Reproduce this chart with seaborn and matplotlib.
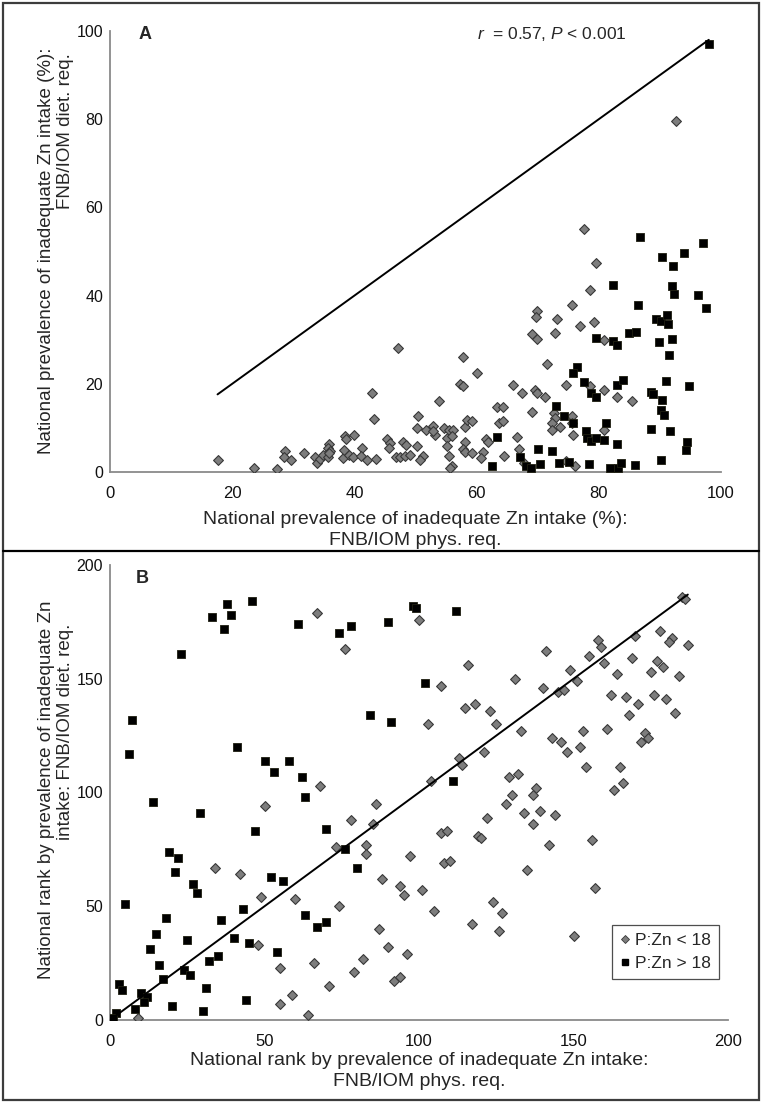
import numpy as np
import pandas as pd
import matplotlib
matplotlib.use("Agg")
import matplotlib.pyplot as plt
from matplotlib.patches import Rectangle
from matplotlib.lines import Line2D
import seaborn as sns

# Panel A: prevalence of inadequate Zn intake (%), phys. req. (x) vs diet. req. (y)
a_low_x = [17.6, 23.5, 27.4, 28.7, 28.4, 29.6, 31.8, 33.6, 33.8, 34.4, 34.9, 35.6, 35.9, 35.6,
           36.0, 38.1, 38.3, 38.5, 38.7, 39.9, 39.1, 39.7, 41.3, 41.1, 42.0, 43.5, 42.9, 43.2,
           45.4, 45.8, 45.7, 46.8, 47.5, 47.9, 48.4, 48.3, 49.1, 50.4, 50.2, 51.8, 50.3, 51.3,
           50.8, 47.1, 57.7, 60.0, 57.3, 57.8, 53.8, 52.9, 53.2, 52.8, 54.6, 55.1, 55.5, 56.1,
           56.0, 55.1, 55.5, 55.9, 55.6, 58.1, 58.5, 59.2, 58.1, 57.7, 58.1, 59.2, 61.1, 60.8,
           61.5, 61.9, 63.4, 64.4, 63.7, 64.4, 64.5, 66.0, 67.4, 66.6, 67.0, 67.8, 69.0, 69.6,
           69.9, 71.2, 71.5, 74.7, 78.6, 72.6, 72.8, 72.4, 72.3, 73.6, 75.6, 75.6, 75.8, 74.7,
           76.1, 79.5, 78.6, 75.6, 69.9, 69.7, 73.2, 77.0, 79.2, 72.8, 69.0, 69.9, 80.9, 80.9,
           82.9, 85.5, 77.5, 92.6, 80.8, 35.9]
a_low_y = [2.7, 0.9, 0.6, 4.8, 3.5, 2.8, 4.3, 3.3, 2.0, 2.9, 3.8, 3.3, 6.3, 5.5,
           4.8, 3.1, 5.0, 8.1, 7.4, 8.4, 3.8, 3.3, 5.5, 3.7, 2.7, 2.9, 18.0, 12.0,
           7.5, 6.5, 5.4, 3.5, 3.3, 6.8, 6.1, 3.7, 3.8, 12.6, 9.9, 9.6, 5.9, 3.7,
           2.8, 28.1, 26.0, 22.5, 19.9, 19.4, 16.2, 10.5, 8.5, 9.3, 9.9, 7.8, 9.5, 9.6,
           8.1, 5.9, 3.7, 1.4, 0.9, 10.2, 11.9, 11.5, 6.8, 5.3, 4.6, 4.3, 4.6, 3.1,
           7.5, 6.8, 14.7, 14.7, 11.1, 11.5, 3.7, 19.7, 18.0, 8.0, 5.3, 2.0, 13.5, 18.5,
           17.9, 17.1, 24.4, 19.7, 19.4, 13.4, 12.3, 11.0, 9.5, 10.2, 12.8, 11.1, 8.3, 2.6,
           1.3, 47.5, 41.3, 37.9, 36.4, 35.2, 34.6, 33.1, 34.1, 31.6, 31.2, 30.1, 30.0, 18.5,
           17.0, 16.1, 55.0, 79.6, 9.5, 4.4]
a_high_x = [76.5, 75.8, 77.6, 78.8, 79.5, 73.0, 74.3, 75.7, 77.9, 78.0, 78.8, 63.3, 67.1, 70.0,
            72.3, 70.4, 68.1, 68.9, 62.5, 73.5, 75.2, 78.4, 86.7, 90.3, 93.9, 97.0, 92.1, 82.4,
            91.9, 92.3, 96.3, 97.5, 86.4, 89.3, 90.1, 91.1, 91.4, 84.9, 86.1, 79.5, 82.3, 83.0,
            89.9, 91.9, 91.5, 91.0, 94.7, 82.9, 83.9, 88.6, 88.8, 90.3, 90.2, 90.6, 81.1, 88.5,
            91.7, 79.6, 80.9, 83.0, 94.4, 94.3, 81.9, 83.2, 83.6, 86.0, 90.1, 98.0]
a_high_y = [23.7, 22.4, 20.3, 17.9, 17.1, 15.0, 12.8, 11.1, 9.3, 7.8, 7.0, 8.0, 3.5, 5.3,
            4.8, 1.8, 1.3, 1.0, 1.3, 2.0, 2.2, 1.8, 53.3, 48.8, 49.6, 52.0, 46.6, 42.5,
            42.2, 40.4, 40.1, 37.1, 37.8, 34.7, 34.2, 35.7, 33.6, 31.5, 31.8, 30.4, 29.8, 28.8,
            29.4, 30.1, 26.6, 20.6, 19.4, 19.7, 20.9, 18.2, 17.6, 16.4, 14.1, 13.0, 11.1, 9.8,
            9.3, 7.6, 7.2, 6.4, 6.8, 5.0, 0.9, 1.0, 2.0, 1.7, 2.8, 97.0]

# Panel B: national rank by prevalence, phys. req. (x) vs diet. req. (y)
b_low_x = [67, 76, 100, 103, 68, 185, 186, 178, 182, 181, 187, 170, 158, 159, 155, 141, 149, 160,
           169, 177, 179, 175, 184, 164, 151, 145, 147, 140, 131, 116, 107, 162, 167, 171, 176,
           180, 183, 168, 161, 153, 173, 174, 172, 143, 146, 148, 152, 154, 165, 166, 163, 133,
           125, 123, 118, 115, 121, 113, 114, 104, 129, 132, 138, 50, 78, 86, 85, 73, 83, 83,
           97, 34, 42, 88, 94, 95, 101, 49, 60, 74, 87, 90, 96, 48, 55, 66, 82, 79, 92, 94,
           71, 59, 55, 64, 9, 128, 130, 137, 122, 134, 137, 139, 144, 107, 109, 119, 120, 142,
           156, 108, 110, 135, 157, 124, 127, 105, 117, 126, 150]
b_low_y = [179, 163, 176, 130, 103, 186, 185, 171, 168, 166, 165, 169, 167, 164, 160, 162, 154, 157,
           159, 158, 155, 153, 151, 152, 149, 144, 145, 146, 150, 156, 147, 143, 142, 139, 143,
           141, 135, 134, 128, 127, 126, 124, 122, 124, 122, 118, 120, 111, 111, 104, 101, 127,
           130, 136, 139, 137, 118, 115, 112, 105, 107, 108, 102, 94, 88, 95, 86, 76, 77, 73,
           72, 67, 64, 62, 59, 55, 57, 54, 53, 50, 40, 32, 29, 33, 23, 25, 27, 21, 17, 19,
           15, 11, 7, 2, 1, 95, 99, 99, 89, 91, 86, 92, 90, 82, 83, 81, 80, 77,
           79, 69, 70, 66, 58, 52, 47, 48, 42, 39, 37]
b_high_x = [38, 46, 33, 39, 37, 23, 61, 74, 78, 90, 98, 99, 102, 7, 6, 41, 84, 91, 50, 53, 58,
            62, 112, 111, 14, 29, 63, 47, 70, 76, 80, 19, 22, 21, 27, 28, 5, 18, 52, 56, 43,
            36, 63, 67, 70, 15, 25, 13, 40, 45, 54, 35, 32, 16, 24, 26, 17, 3, 4, 10, 12, 11,
            31, 44, 20, 30, 8, 2, 1]
b_high_y = [183, 184, 177, 178, 172, 161, 174, 170, 173, 175, 182, 181, 148, 132, 117, 120, 134,
            131, 114, 109, 114, 107, 180, 105, 96, 91, 98, 83, 84, 75, 67, 74, 71, 65, 60, 56,
            51, 45, 63, 61, 49, 44, 46, 41, 43, 38, 35, 31, 36, 34, 30, 28, 26, 24, 22, 20, 18,
            16, 13, 12, 10, 8, 14, 9, 6, 4, 5, 3, 1]

LOW_LABEL = 'P:Zn < 18'
HIGH_LABEL = 'P:Zn > 18'

sns.set_style("white")
plt.rcParams['font.family'] = ['Liberation Sans', 'DejaVu Sans']
plt.rcParams['mathtext.fontset'] = 'custom'
plt.rcParams['mathtext.rm'] = 'Liberation Sans'
plt.rcParams['mathtext.it'] = 'Liberation Sans:italic'

W, H = 764.0, 1104.0
fig = plt.figure(figsize=(W / 100, H / 100), dpi=100)


def px_axes(left, top, right, bottom):
    return fig.add_axes([left / W, 1 - bottom / H, (right - left) / W, (bottom - top) / H])


def px_text(x, y, s, **kw):
    # text placed in figure pixels, measured from top-left
    return fig.text(x / W, 1 - y / H, s, **kw)


def draw_panel(ax, lx, ly, hx, hy, xlim, ylim, xticks, yticks):
    low = pd.DataFrame({'x': lx, 'y': ly})
    high = pd.DataFrame({'x': hx, 'y': hy})
    sns.scatterplot(data=low, x='x', y='y', marker='D', s=25, color='#7d7d7d',
                    edgecolor='#383838', linewidth=0.8, ax=ax, zorder=3, legend=False)
    sns.scatterplot(data=high, x='x', y='y', marker='s', s=36, color='black',
                    edgecolor='#1e1e10', linewidth=0.6, ax=ax, zorder=3, legend=False)
    allx = np.concatenate([np.asarray(lx), np.asarray(hx)])
    ends = [allx.min(), allx.max()]
    ax.plot(ends, ends, color='black', lw=1.4, zorder=4)

    ax.set_xlim(*xlim)
    ax.set_ylim(*ylim)
    ax.set_xticks(xticks)
    ax.set_yticks(yticks)
    ax.tick_params(axis='both', length=0, labelsize=12, colors='#111111')
    ax.tick_params(axis='x', pad=10)
    ax.tick_params(axis='y', pad=5, labelsize=11.5)
    for side in ['top', 'right']:
        ax.spines[side].set_visible(False)
    for side in ['left', 'bottom']:
        ax.spines[side].set_color('#8a8a8a')
        ax.spines[side].set_linewidth(1.3)
    ax.set_xlabel('')
    ax.set_ylabel('')
    ax.set_facecolor('white')


label_kw = dict(fontsize=13.5, rotation=90, ha='center', va='center')

# ---- panel A
ax_a = px_axes(110, 31, 721, 472)
draw_panel(ax_a, a_low_x, a_low_y, a_high_x, a_high_y,
           (0, 100), (0, 100), range(0, 101, 20), range(0, 101, 20))
ax_a.set_xlabel('National prevalence of inadequate Zn intake (%):\nFNB/IOM phys. req.',
                fontsize=14, linespacing=1.3)
ax_a.xaxis.set_label_coords(0.5, -0.088)
px_text(47, 251, 'National prevalence of inadequate Zn intake (%):', **label_kw)
px_text(66, 131, 'FNB/IOM diet. req.', **label_kw)
ax_a.text(0.047, 0.993, 'A', transform=ax_a.transAxes, fontsize=13, fontweight='bold',
          va='center', ha='left')
ax_a.text(0.601, 0.993, r'$\it{r}$  = 0.57, $\it{P}$ < 0.001', transform=ax_a.transAxes,
          fontsize=12.5, va='center', ha='left')

# ---- panel B
ax_b = px_axes(110, 565, 728, 1020)
draw_panel(ax_b, b_low_x, b_low_y, b_high_x, b_high_y,
           (0, 200), (0, 200), range(0, 201, 50), range(0, 201, 50))
ax_b.set_xlabel('National rank by prevalence of inadequate Zn intake:\nFNB/IOM phys. req.',
                fontsize=14, linespacing=1.3)
ax_b.xaxis.set_label_coords(0.5, -0.070)
px_text(47, 790, 'National rank by prevalence of inadequate Zn', **label_kw)
px_text(66, 732, 'intake: FNB/IOM diet. req.', **label_kw)
ax_b.text(0.042, 0.971, 'B', transform=ax_b.transAxes, fontsize=13, fontweight='bold',
          va='center', ha='left')

handles = [Line2D([], [], ls='none', marker='D', markersize=4.5, markerfacecolor='#7d7d7d',
                  markeredgecolor='#383838', markeredgewidth=0.6),
           Line2D([], [], ls='none', marker='s', markersize=4.5, markerfacecolor='black',
                  markeredgecolor='black')]
leg = ax_b.legend(handles, [LOW_LABEL, HIGH_LABEL], loc='lower right',
                  bbox_to_anchor=(0.985, 0.09), borderaxespad=0, fontsize=12.5,
                  frameon=True, fancybox=False, handlelength=0.6, handletextpad=0.3,
                  borderpad=0.45, labelspacing=0.45)
leg.get_frame().set_edgecolor('#222222')
leg.get_frame().set_linewidth(0.9)

# ---- outer frame and divider
fig.add_artist(Rectangle((3 / W, 1 - 1100 / H), 756 / W, 1097 / H, transform=fig.transFigure,
                         fill=False, edgecolor='#3c3c3c', lw=1.6))
fig.add_artist(Line2D([3 / W, 759 / W], [1 - 551 / H, 1 - 551 / H],
                      transform=fig.transFigure, color='black', lw=1.6))

fig.savefig('out.png', dpi=100, facecolor='white')
